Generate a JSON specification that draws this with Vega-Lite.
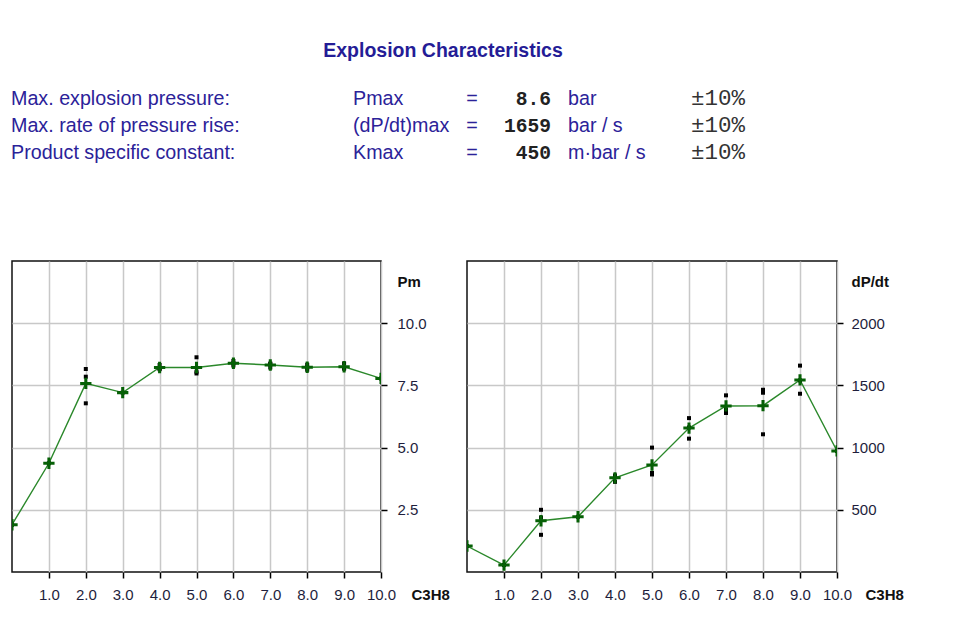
{
  "$schema": "https://vega.github.io/schema/vega-lite/v6.json",
  "background": "white",
  "padding": {"left": 11, "top": 0, "right": 0, "bottom": 0},
  "config": {
    "font": "Liberation Sans",
    "view": {"stroke": "#111111", "strokeWidth": 1.5},
    "axis": {
      "grid": true, "gridColor": "#c8c8c8", "gridWidth": 1.5,
      "domain": false, "tickColor": "#000000", "tickSize": 6, "tickWidth": 1.5,
      "labelFont": "Liberation Sans", "labelFontSize": 15, "labelColor": "#1e1e3c",
      "labelFlush": false, "labelOverlap": false,
      "titleFont": "Liberation Sans", "titleFontSize": 15, "titleFontWeight": "bold", "titleColor": "#111111",
      "titleAngle": 0, "titleAlign": "left", "titleBaseline": "alphabetic"
    }
  },
  "datasets": {
    "rows": [
      {"row": "r1", "label": "Max. explosion pressure:", "sym": "Pmax", "eq": "=", "val": "8.6", "unit": "bar", "tol": "±10%"},
      {"row": "r2", "label": "Max. rate of pressure rise:", "sym": "(dP/dt)max", "eq": "=", "val": "1659", "unit": "bar / s", "tol": "±10%"},
      {"row": "r3", "label": "Product specific constant:", "sym": "Kmax", "eq": "=", "val": "450", "unit": "m·bar / s", "tol": "±10%"}
    ],
    "pm_mean": [
      {"c": 0, "v": 1.9}, {"c": 1, "v": 4.37}, {"c": 2, "v": 7.58}, {"c": 3, "v": 7.21},
      {"c": 4, "v": 8.22}, {"c": 5, "v": 8.22}, {"c": 6, "v": 8.39}, {"c": 7, "v": 8.32},
      {"c": 8, "v": 8.23}, {"c": 9, "v": 8.25}, {"c": 10, "v": 7.78}
    ],
    "pm_pts": [
      {"c": 0, "v": 1.9}, {"c": 1, "v": 4.37},
      {"c": 2, "v": 8.16}, {"c": 2, "v": 7.85}, {"c": 2, "v": 6.78},
      {"c": 3, "v": 7.21},
      {"c": 4, "v": 8.32}, {"c": 4, "v": 8.18}, {"c": 4, "v": 8.15},
      {"c": 5, "v": 8.63}, {"c": 5, "v": 8.05}, {"c": 5, "v": 7.98},
      {"c": 6, "v": 8.48}, {"c": 6, "v": 8.39}, {"c": 6, "v": 8.3},
      {"c": 7, "v": 8.38}, {"c": 7, "v": 8.35}, {"c": 7, "v": 8.22},
      {"c": 8, "v": 8.33}, {"c": 8, "v": 8.22}, {"c": 8, "v": 8.13},
      {"c": 9, "v": 8.38}, {"c": 9, "v": 8.2}, {"c": 9, "v": 8.17},
      {"c": 10, "v": 7.78}
    ],
    "dp_mean": [
      {"c": 0, "v": 209}, {"c": 1, "v": 56}, {"c": 2, "v": 412}, {"c": 3, "v": 444},
      {"c": 4, "v": 757}, {"c": 5, "v": 860}, {"c": 6, "v": 1157}, {"c": 7, "v": 1335},
      {"c": 8, "v": 1337}, {"c": 9, "v": 1544}, {"c": 10, "v": 973}
    ],
    "dp_pts": [
      {"c": 0, "v": 209}, {"c": 1, "v": 56},
      {"c": 2, "v": 500}, {"c": 2, "v": 437}, {"c": 2, "v": 299},
      {"c": 3, "v": 444},
      {"c": 4, "v": 776}, {"c": 4, "v": 770}, {"c": 4, "v": 725},
      {"c": 5, "v": 1000}, {"c": 5, "v": 796}, {"c": 5, "v": 784},
      {"c": 6, "v": 1237}, {"c": 6, "v": 1162}, {"c": 6, "v": 1072},
      {"c": 7, "v": 1420}, {"c": 7, "v": 1307}, {"c": 7, "v": 1278},
      {"c": 8, "v": 1465}, {"c": 8, "v": 1441}, {"c": 8, "v": 1107},
      {"c": 9, "v": 1659}, {"c": 9, "v": 1540}, {"c": 9, "v": 1433},
      {"c": 10, "v": 973}
    ]
  },
  "spacing": 21,
  "bounds": "flush",
  "vconcat": [
    {
      "width": 862,
      "height": 240,
      "view": {"stroke": null},
      "layer": [
        {
          "data": {"values": [{"row": "t", "text": "Explosion Characteristics"}]},
          "mark": {"type": "text", "align": "center", "baseline": "alphabetic", "fontSize": 19.5, "fontWeight": "bold", "color": "#241c96", "dy": 6},
          "encoding": {
            "x": {"datum": 431, "type": "quantitative", "scale": {"domain": [0, 862], "nice": false, "zero": false}, "axis": null},
            "y": {"datum": "t", "type": "nominal", "scale": {"type": "point", "domain": ["t", "g", "r1", "r2", "r3"], "range": [51, 159], "padding": 0}, "axis": null},
            "text": {"field": "text"}
          }
        },
        {
          "data": {"name": "rows"},
          "mark": {"type": "text", "align": "left", "baseline": "alphabetic", "fontSize": 19.7, "color": "#2b2299", "dx": -1},
          "encoding": {
            "x": {"datum": 0, "type": "quantitative"},
            "y": {"field": "row", "type": "nominal"},
            "text": {"field": "label"}
          }
        },
        {
          "data": {"name": "rows"},
          "mark": {"type": "text", "align": "left", "baseline": "alphabetic", "fontSize": 19.7, "color": "#2b2299"},
          "encoding": {
            "x": {"datum": 341, "type": "quantitative"},
            "y": {"field": "row", "type": "nominal"},
            "text": {"field": "sym"}
          }
        },
        {
          "data": {"name": "rows"},
          "mark": {"type": "text", "align": "center", "baseline": "alphabetic", "fontSize": 19.7, "color": "#2b2299"},
          "encoding": {
            "x": {"datum": 460, "type": "quantitative"},
            "y": {"field": "row", "type": "nominal"},
            "text": {"field": "eq"}
          }
        },
        {
          "data": {"name": "rows"},
          "mark": {"type": "text", "align": "right", "baseline": "alphabetic", "fontSize": 19.6, "fontWeight": "bold", "font": "Liberation Mono", "color": "#222222"},
          "encoding": {
            "x": {"datum": 539, "type": "quantitative"},
            "y": {"field": "row", "type": "nominal"},
            "text": {"field": "val"}
          }
        },
        {
          "data": {"name": "rows"},
          "mark": {"type": "text", "align": "left", "baseline": "alphabetic", "fontSize": 19.7, "color": "#2b2299"},
          "encoding": {
            "x": {"datum": 556, "type": "quantitative"},
            "y": {"field": "row", "type": "nominal"},
            "text": {"field": "unit"}
          }
        },
        {
          "data": {"name": "rows"},
          "mark": {"type": "text", "align": "left", "baseline": "alphabetic", "fontSize": 22.5, "font": "Liberation Mono", "color": "#333333"},
          "encoding": {
            "x": {"datum": 679, "type": "quantitative"},
            "y": {"field": "row", "type": "nominal"},
            "text": {"field": "tol"}
          }
        }
      ]
    },
    {
      "spacing": 86,
      "bounds": "flush",
      "hconcat": [
        {
          "width": 369,
          "height": 311,
          "layer": [
            {
              "data": {"name": "pm_mean"},
              "mark": {"type": "line", "color": "#2a882a", "strokeWidth": 1.4, "clip": true},
              "encoding": {
                "x": {"field": "c", "type": "quantitative", "scale": {"domain": [0, 10], "nice": false},
                  "axis": {"values": [1, 2, 3, 4, 5, 6, 7, 8, 9, 10], "labelExpr": "format(datum.value, '.1f')", "labelPadding": 9,
                    "title": "C3H8", "titleX": 399, "titleY": 27}},
                "y": {"field": "v", "type": "quantitative", "scale": {"domain": [0, 12.5], "nice": false},
                  "axis": {"orient": "right", "values": [2.5, 5, 7.5, 10], "labelExpr": "format(datum.value, '.1f')", "labelPadding": 10,
                    "title": "Pm", "titleX": 16, "titleY": 25}}
              }
            },
            {
              "data": {"name": "pm_pts"},
              "mark": {"type": "point", "shape": "square", "filled": true, "color": "#000000", "size": 16, "opacity": 1, "clip": true},
              "encoding": {
                "x": {"field": "c", "type": "quantitative"},
                "y": {"field": "v", "type": "quantitative"}
              }
            },
            {
              "data": {"name": "pm_mean"},
              "mark": {"type": "point", "shape": "M-1,-0.27H-0.27V-1H0.27V-0.27H1V0.27H0.27V1H-0.27V0.27H-1Z", "filled": true, "color": "#066006", "size": 128, "opacity": 1, "clip": true},
              "encoding": {
                "x": {"field": "c", "type": "quantitative"},
                "y": {"field": "v", "type": "quantitative"}
              }
            }
          ]
        },
        {
          "width": 370,
          "height": 311,
          "layer": [
            {
              "data": {"name": "dp_mean"},
              "mark": {"type": "line", "color": "#2a882a", "strokeWidth": 1.4, "clip": true},
              "encoding": {
                "x": {"field": "c", "type": "quantitative", "scale": {"domain": [0, 10], "nice": false},
                  "axis": {"values": [1, 2, 3, 4, 5, 6, 7, 8, 9, 10], "labelExpr": "format(datum.value, '.1f')", "labelPadding": 9,
                    "title": "C3H8", "titleX": 398, "titleY": 27}},
                "y": {"field": "v", "type": "quantitative", "scale": {"domain": [0, 2500], "nice": false},
                  "axis": {"orient": "right", "values": [500, 1000, 1500, 2000], "labelExpr": "format(datum.value, 'd')", "labelPadding": 8,
                    "title": "dP/dt", "titleX": 14, "titleY": 25}}
              }
            },
            {
              "data": {"name": "dp_pts"},
              "mark": {"type": "point", "shape": "square", "filled": true, "color": "#000000", "size": 16, "opacity": 1, "clip": true},
              "encoding": {
                "x": {"field": "c", "type": "quantitative"},
                "y": {"field": "v", "type": "quantitative"}
              }
            },
            {
              "data": {"name": "dp_mean"},
              "mark": {"type": "point", "shape": "M-1,-0.27H-0.27V-1H0.27V-0.27H1V0.27H0.27V1H-0.27V0.27H-1Z", "filled": true, "color": "#066006", "size": 128, "opacity": 1, "clip": true},
              "encoding": {
                "x": {"field": "c", "type": "quantitative"},
                "y": {"field": "v", "type": "quantitative"}
              }
            }
          ]
        }
      ]
    }
  ]
}
